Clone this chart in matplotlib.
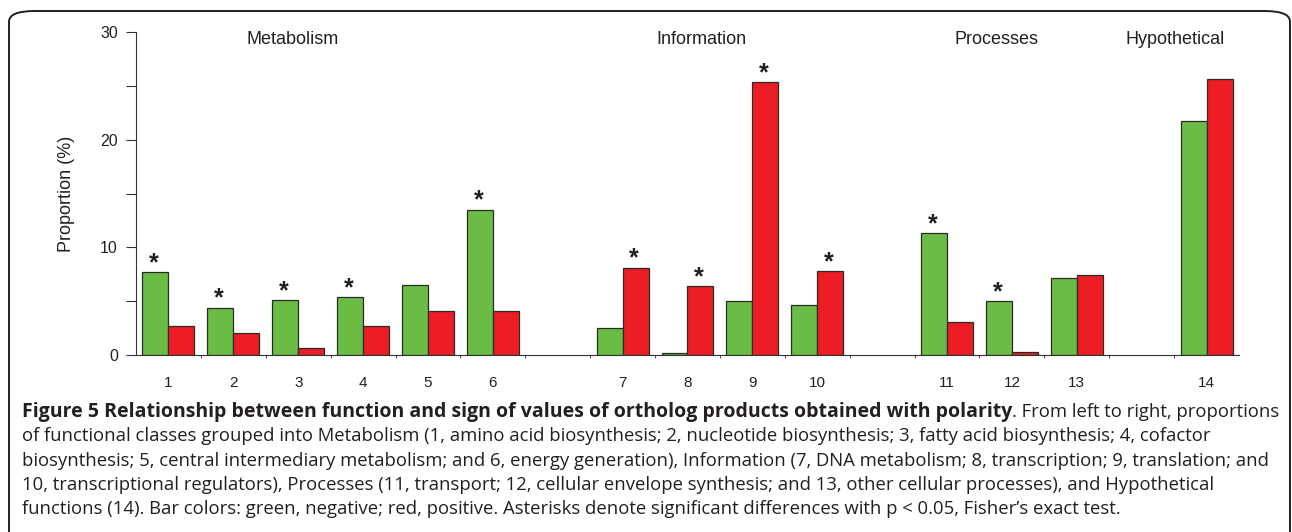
import matplotlib
matplotlib.use('Agg')
import matplotlib.pyplot as plt
from matplotlib.patches import FancyBboxPatch
import numpy as np

# data
categories = ['1', '2', '3', '4', '5', '6', '7', '8', '9', '10', '11', '12', '13', '14']
groups = ['Metabolism', 'Information', 'Processes', 'Hypothetical']
group_sizes = [6, 4, 3, 1]
negative = [7.7, 4.4, 5.1, 5.4, 6.5, 13.5, 2.5, 0.2, 5.0, 4.7, 11.3, 5.0, 7.2, 21.7]
positive = [2.7, 2.1, 0.7, 2.7, 4.1, 4.1, 8.1, 6.4, 25.3, 7.8, 3.1, 0.3, 7.4, 25.6]
sig_neg = ['1', '2', '3', '4', '6', '11', '12']
sig_pos = ['7', '8', '9', '10']

caption_bold = 'Figure 5 Relationship between function and sign of values of ortholog products obtained with polarity'
caption_lines = [
    '. From left to right, proportions',
    'of functional classes grouped into Metabolism (1, amino acid biosynthesis; 2, nucleotide biosynthesis; 3, fatty acid biosynthesis; 4, cofactor',
    'biosynthesis; 5, central intermediary metabolism; and 6, energy generation), Information (7, DNA metabolism; 8, transcription; 9, translation; and',
    '10, transcriptional regulators), Processes (11, transport; 12, cellular envelope synthesis; and 13, other cellular processes), and Hypothetical',
    'functions (14). Bar colors: green, negative; red, positive. Asterisks denote significant differences with p < 0.05, Fisher\u2019s exact test.',
]

GREEN = '#6bbc45'
RED = '#ec1d24'
TXT = '#231f20'

# slot positions: one empty slot between groups
pos = []
start = 0
for n in group_sizes:
    pos += list(range(start, start + n))
    start += n + 1
pos = np.array(pos, dtype=float)

fig = plt.figure(figsize=(12.92, 5.32), dpi=100)

# rounded frame around the figure
frame = FancyBboxPatch((9 / 1292, -0.05), 1281 / 1292, 1 - 11 / 532 + 0.05,
                       boxstyle='round,pad=0,rounding_size=0.02',
                       transform=fig.transFigure, fill=False,
                       edgecolor='#231f20', linewidth=1.4, clip_on=False)
fig.patches.append(frame)

ax = fig.add_axes([136 / 1292, 1 - 355.3 / 532, 1103 / 1292, (355.3 - 31.7) / 532])

w = 0.4
ax.bar(pos - w / 2, negative, width=w, color=GREEN, edgecolor='#2a2a2a', linewidth=0.9)
ax.bar(pos + w / 2, positive, width=w, color=RED, edgecolor='#2a2a2a', linewidth=0.9)

for i, c in enumerate(categories):
    if c in sig_neg:
        ax.annotate('*', (pos[i] - w / 2, negative[i]), xytext=(-1, -2), textcoords='offset points',
                    ha='center', va='bottom', fontsize=18, fontweight='bold',
                    fontfamily='Liberation Sans', color=TXT)
    if c in sig_pos:
        ax.annotate('*', (pos[i] + w / 2, positive[i]), xytext=(-1, -2), textcoords='offset points',
                    ha='center', va='bottom', fontsize=18, fontweight='bold',
                    fontfamily='Liberation Sans', color=TXT)

ax.set_xlim(-0.5, pos[-1] + 0.5)
ax.set_ylim(0, 30)
ax.spines['top'].set_visible(False)
ax.spines['right'].set_visible(False)
ax.spines['left'].set_color('#333333')
ax.spines['bottom'].set_color('#333333')

ax.set_yticks(np.arange(0, 31, 5))
ax.set_yticklabels(['0', '', '10', '', '20', '', '30'])
ax.tick_params(axis='y', length=7, width=0.8, color='#333333', labelsize=11.5, pad=6, labelcolor=TXT)
for t in ax.get_yticklabels():
    t.set_fontfamily('Liberation Sans')

ax.set_xticks(np.arange(0.5, pos[-1], 1.0))
ax.set_xticklabels([])
ax.tick_params(axis='x', which='major', length=2, width=0.8, color='#555555')
ax.set_xticks(pos, minor=True)
ax.set_xticklabels(categories, minor=True, fontsize=11, fontfamily='Liberation Sans', color=TXT)
ax.tick_params(axis='x', which='minor', length=0, pad=15)

ax.set_ylabel('Proportion (%)', fontsize=13, fontfamily='Liberation Sans', color=TXT, labelpad=18)

group_x = [1.92, 8.22, 12.77, 15.51]
for g, gx in zip(groups, group_x):
    ax.text(gx, 29.3, g, ha='center', va='center', fontsize=13, fontfamily='Liberation Sans', color=TXT)

# caption
fs = 13.3
fs_bold = 14.0
y0 = 1 - 412 / 532
dy = 24.3 / 532
x0 = 22 / 1292
tb = fig.text(x0, y0, caption_bold, fontsize=fs_bold, fontweight='bold', fontfamily='Open Sans',
              color=TXT, va='center')
fig.canvas.draw()
bb = tb.get_window_extent()
x1 = bb.x1 / fig.bbox.width
fig.text(x1, y0, caption_lines[0], fontsize=fs, fontfamily='Open Sans', color=TXT, va='center')
for k, line in enumerate(caption_lines[1:], start=1):
    fig.text(x0, y0 - k * dy, line, fontsize=fs, fontfamily='Open Sans', color=TXT, va='center')

fig.savefig('out.png', dpi=100)
